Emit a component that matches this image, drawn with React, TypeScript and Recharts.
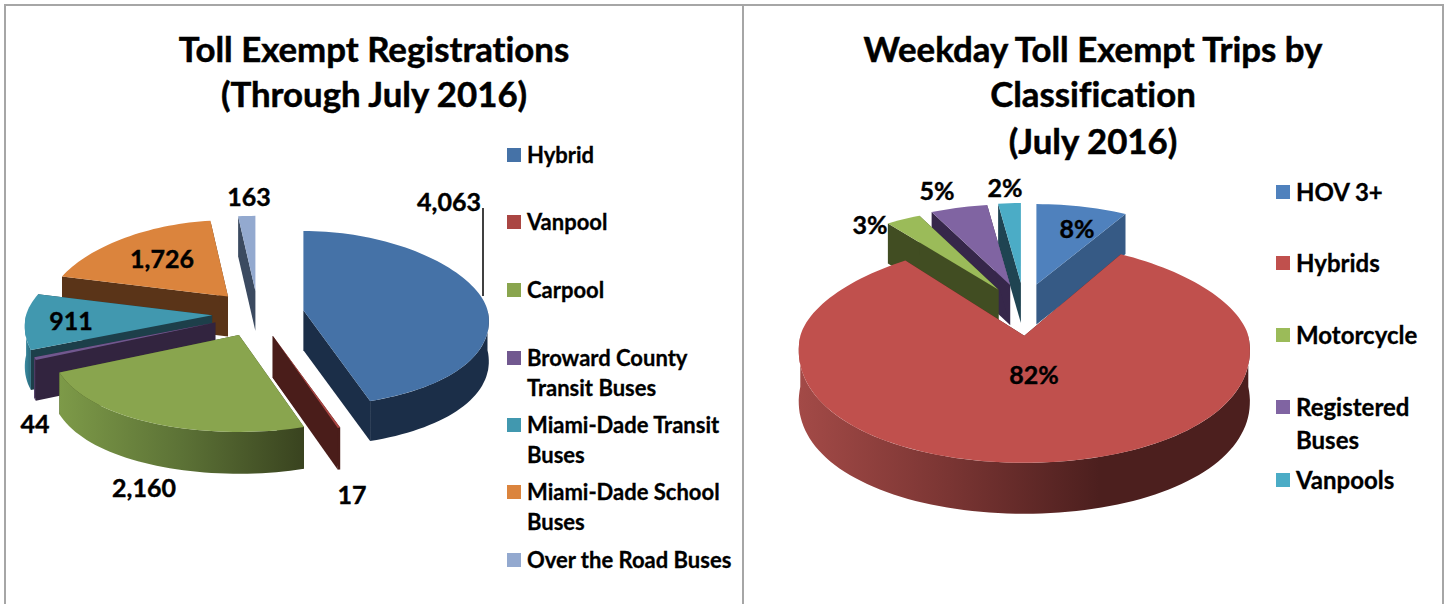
import { PieChart, Pie, Legend } from "recharts";

const leftNames = ["Hybrid", "Vanpool", "Carpool", "Broward County Transit Buses", "Miami-Dade Transit Buses", "Miami-Dade School Buses", "Over the Road Buses"];
const leftValues = [4063, 17, 2160, 44, 911, 1726, 163];
const leftLegendLines = [["Hybrid"], ["Vanpool"], ["Carpool"], ["Broward County", "Transit Buses"], ["Miami-Dade Transit", "Buses"], ["Miami-Dade School", "Buses"], ["Over the Road Buses"]];
const leftColors = ["#4572a7", "#aa4643", "#89a54e", "#71588f", "#4198af", "#db843d", "#93a9cf"];
const leftWalls = ["#1b2e48", "#4a1d1a", "#3e4a20", "#32243f", "#1d3f4a", "#5a3418", "#3b4a60"];
const leftArcStops = [["#1b2e48", "#1b2e48"], ["#4a1d1a", "#4a1d1a"], ["#7d9a48", "#5c7236", "#39431f"], ["#5d4878", "#32243f"], ["#3a8aa0", "#2a6a7d"], ["#5a3418", "#5a3418"], ["#3b4a60", "#3b4a60"]];
const leftLabelPos = [[449, 201], [352, 494], [144, 487], [35, 423], [71, 320], [162, 258], [249, 196]];
const leftLegendY = [155, 222, 290, 358, 425, 492, 560];

const rightNames = ["HOV 3+", "Hybrids", "Motorcycle", "Registered Buses", "Vanpools"];
const rightValues = [8, 82, 3, 5, 2];
const rightLegendLines = [["HOV 3+"], ["Hybrids"], ["Motorcycle"], ["Registered", "Buses"], ["Vanpools"]];
const rightColors = ["#4f81bd", "#c0504d", "#9bbb59", "#8064a2", "#4bacc6"];
const rightWalls = ["#365a85", "#4a1d1a", "#414d22", "#36274a", "#1f4452"];
const rightArcStops = [["#365a85", "#365a85"], ["#a34a47", "#7a3533", "#4c1f1e", "#4c1f1e"], ["#414d22", "#414d22"], ["#36274a", "#36274a"], ["#1f4452", "#1f4452"]];
const rightLabelPos = [[1077, 228], [1034, 374], [870, 224], [937, 190], [1005, 187]];
const rightPull = [1, 0.1, 1, 1, 1];
const rightLegendY = [192, 263, 335, 407, 480];

const FONT = "Lato, 'Open Sans', sans-serif";
const BORDER = "#a6a6a6";
const rad = (d: number) => (d * Math.PI) / 180;

// look of the tilted pie on the page
type Tilt = { ex: number; ey: number; ryBack: number; ryFront: number; skew: number; shrinkX: number; shrinkY: number; depth: number; depthFront: number };
const leftTilt: Tilt = { ex: 46, ey: 23, ryBack: 80, ryFront: 97, skew: 0.12, shrinkX: 0.06, shrinkY: 0.06, depth: 40, depthFront: 2 };
const rightTilt: Tilt = { ex: 50, ey: 48, ryBack: 93, ryFront: 127, skew: 0.12, shrinkX: 0.08, shrinkY: 0.14, depth: 40, depthFront: 11 };

function makeRows(names: string[], values: number[], colors: string[], walls: string[], arcs: string[][], pos: number[][], pull?: number[]) {
  return names.map((name, i) => ({ name, value: values[i], color: colors[i], wall: walls[i], arc: arcs[i], pos: pos[i], pull: pull ? pull[i] : 1 }));
}

// Recharts hands over the real angles, we only squash them into the 3D look
function sliceShape(tilt: Tilt, id: string) {
  return (props: any) => {
    const { cx, cy, outerRadius, startAngle, endAngle, midAngle, payload, index } = props;
    const row = payload.payload ?? payload;
    let t0 = 90 - endAngle;
    let t1 = 90 - startAngle;
    while (t0 < 0) {
      t0 += 360;
      t1 += 360;
    }
    const mid = rad(90 - midAngle);
    const ax = cx + Math.sin(mid) * tilt.ex * row.pull;
    const ay = cy - Math.cos(mid) * tilt.ey * row.pull;
    const back = Math.max(0, Math.cos(mid)) * row.pull;
    const depth = tilt.depth + tilt.depthFront * Math.max(0, -Math.cos(mid));
    const rim = (t: number) => {
      const c = Math.cos(rad(t));
      const x = outerRadius * Math.sin(rad(t)) * (1 - tilt.skew * c);
      const y = -c * (c > 0 ? tilt.ryBack : tilt.ryFront);
      return [ax + x * (1 - tilt.shrinkX * back), ay + y * (1 - tilt.shrinkY * back)];
    };
    const arcPts = (a: number, b: number) => {
      const pts: number[][] = [];
      const n = Math.max(2, Math.ceil((b - a) / 2));
      for (let i = 0; i <= n; i++) pts.push(rim(a + ((b - a) * i) / n));
      return pts;
    };
    const toPath = (pts: number[][]) => "M" + pts.map((p) => p[0].toFixed(1) + " " + p[1].toFixed(1)).join("L") + "Z";
    const down = (pts: number[][]) => pts.map((p) => [p[0], p[1] + depth]);

    const top = [[ax, ay], ...arcPts(t0, t1)];
    const startEdge = rim(t0);
    const endEdge = rim(t1);
    const frontA = Math.max(t0, 90);
    const frontB = Math.min(t1, 270);
    const front = frontB > frontA ? arcPts(frontA, frontB) : null;
    const gid = id + "-" + index;
    return (
      <g>
        <path d={toPath([[ax, ay], startEdge, ...down([startEdge]), [ax, ay + depth]])} fill={row.wall} />
        <path d={toPath([[ax, ay], endEdge, ...down([endEdge]), [ax, ay + depth]])} fill={row.wall} />
        {front && (
          <>
            <defs>
              <linearGradient id={gid} x1="0" y1="0" x2="1" y2="0">
                {row.arc.map((c: string, i: number) => (
                  <stop key={i} offset={`${(100 * i) / (row.arc.length - 1)}%`} stopColor={c} />
                ))}
              </linearGradient>
            </defs>
            <path d={toPath([...front, ...down(front).reverse()])} fill={`url(#${gid})`} />
          </>
        )}
        <path d={toPath(top)} fill={row.color} />
      </g>
    );
  };
}

function labelAt(fmt: (v: number) => string, leaderOn?: string) {
  return (props: any) => {
    const row = props.payload?.payload ?? props.payload;
    return (
      <g>
        {row.name === leaderOn && <line x1={483} y1={208} x2={483} y2={296} stroke="#000" strokeWidth={1.5} />}
        <text x={row.pos[0]} y={row.pos[1]} textAnchor="middle" dominantBaseline="central" fontFamily={FONT} fontWeight={700} fontSize={25} fill="#000" stroke="#000" strokeWidth={0.4} style={{ fontVariantLigatures: "none" }}>
          {fmt(row.value)}
        </text>
      </g>
    );
  };
}

function LegendList({ lines, colors, ys, x, fontSize, lineGap }: { lines: string[][]; colors: string[]; ys: number[]; x: number; fontSize: number; lineGap: number }) {
  return (
    <div style={{ position: "relative", width: 0, height: 0, fontFamily: FONT, fontWeight: 700, fontSize, color: "#000", fontVariantLigatures: "none", WebkitTextStroke: "0.3px #000" }}>
      {lines.map((group, i) => (
        <div key={i} style={{ position: "absolute", left: x, top: ys[i] - 7, whiteSpace: "nowrap" }}>
          <span style={{ position: "absolute", left: 0, top: 0, width: 14, height: 14, background: colors[i] }} />
          {group.map((t, j) => (
            <div key={t} style={{ position: "absolute", left: 20, top: 7 + j * lineGap - 20, height: 40, lineHeight: "40px" }}>
              {t}
            </div>
          ))}
        </div>
      ))}
    </div>
  );
}

function Title({ x, lines, ys }: { x: number; lines: string[]; ys: number[] }) {
  return (
    <>
      {lines.map((t, i) => (
        <text key={t} x={x} y={ys[i]} textAnchor="middle" dominantBaseline="central" fontFamily={FONT} fontWeight={700} fontSize={34.8} fill="#000" stroke="#000" strokeWidth={0.5} style={{ fontVariantLigatures: "none" }}>
          {t}
        </text>
      ))}
    </>
  );
}

// drawn clockwise from the top in the picture but painted back to front,
// so the list is walked in reverse and the pie runs the other way round
const leftTable = makeRows(leftNames, leftValues, leftColors, leftWalls, leftArcStops, leftLabelPos).reverse();
const rightRows = makeRows(rightNames, rightValues, rightColors, rightWalls, rightArcStops, rightLabelPos, rightPull);
const rightTable = [rightRows[0], rightRows[4], rightRows[3], rightRows[2], rightRows[1]];
const rightTotal = rightValues.reduce((a, b) => a + b, 0);
const rightStart = 90 - (360 * rightValues[0]) / rightTotal;

export default function App() {
  return (
    <div style={{ position: "absolute", left: 0, top: 0, width: 1447, height: 604, background: "#fff", overflow: "hidden" }}>
      <div style={{ position: "absolute", left: 4, top: 4, width: 1440, height: 2, background: BORDER }} />
      <div style={{ position: "absolute", left: 4, top: 4, width: 2, height: 600, background: BORDER }} />
      <div style={{ position: "absolute", left: 742, top: 4, width: 2, height: 600, background: BORDER }} />
      <div style={{ position: "absolute", left: 1442, top: 4, width: 2, height: 600, background: BORDER }} />

      <div style={{ position: "absolute", left: 0, top: 0 }}>
        <PieChart width={742} height={604} margin={{ top: 0, right: 0, bottom: 0, left: 0 }}>
          <Title x={374} lines={["Toll Exempt Registrations", "(Through July 2016)"]} ys={[48, 93]} />
          <Pie
            data={leftTable}
            dataKey="value"
            nameKey="name"
            cx={258}
            cy={314}
            outerRadius={186}
            startAngle={90}
            endAngle={450}
            stroke="none"
            isAnimationActive={false}
            shape={sliceShape(leftTilt, "l")}
            label={labelAt((v) => v.toLocaleString("en-US"), "Hybrid")}
            labelLine={false}
          />
          <Legend
            wrapperStyle={{ position: "absolute", left: 0, top: 0, width: 0, height: 0 }}
            content={() => <LegendList lines={leftLegendLines} colors={leftColors} ys={leftLegendY} x={507} fontSize={22} lineGap={30} />}
          />
        </PieChart>
      </div>

      <div style={{ position: "absolute", left: 0, top: 0 }}>
        <PieChart width={1447} height={604} margin={{ top: 0, right: 0, bottom: 0, left: 0 }}>
          <Title x={1093} lines={["Weekday Toll Exempt Trips by", "Classification", "(July 2016)"]} ys={[48, 93, 140]} />
          <Pie
            data={rightTable}
            dataKey="value"
            nameKey="name"
            cx={1024}
            cy={331}
            outerRadius={224}
            startAngle={rightStart}
            endAngle={rightStart + 360}
            stroke="none"
            isAnimationActive={false}
            shape={sliceShape(rightTilt, "r")}
            label={labelAt((v) => v + "%")}
            labelLine={false}
          />
          <Legend
            wrapperStyle={{ position: "absolute", left: 0, top: 0, width: 0, height: 0 }}
            content={() => <LegendList lines={rightLegendLines} colors={rightColors} ys={rightLegendY} x={1276} fontSize={24} lineGap={33} />}
          />
        </PieChart>
      </div>
    </div>
  );
}
